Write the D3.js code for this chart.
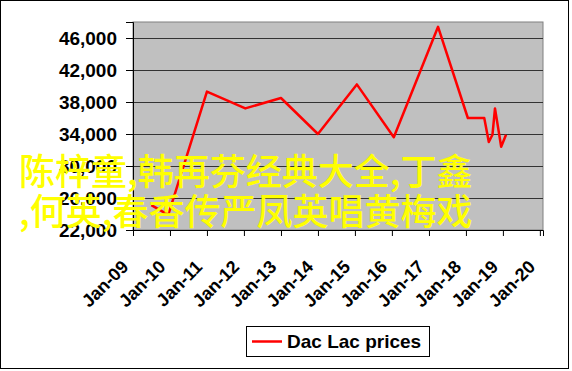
<!DOCTYPE html>
<html>
<head>
  <meta charset="UTF-8">
  <script src="https://cdnjs.cloudflare.com/ajax/libs/d3/7.8.5/d3.min.js"></script>
</head>
<body>
<style>
  body { margin: 0; background: #fff; }
  text { font-family: "Liberation Sans", Arial, sans-serif; font-weight: bold; fill: #000; }
</style>
<script>
  // price points
  var dates = ["2009-07-01", "2009-12-15", "2011-01-01", "2012-01-15", "2013-01-01", "2014-01-01",
    "2015-01-20", "2016-01-20", "2017-04-01", "2018-01-20", "2018-07-01", "2018-08-15",
    "2018-09-20", "2018-10-15", "2018-12-15", "2019-02-01"];
  var prices = [25100, 23900, 39300, 37200, 38500, 34000,
    40200, 33600, 47400, 36000, 36000, 33000,
    33900, 37200, 32400, 33900];
  var yTicks = [22000, 26000, 30000, 34000, 38000, 42000, 46000];
  var xTicks = ["2009-01-01", "2010-01-01", "2011-01-01", "2012-01-01", "2013-01-01", "2014-01-01",
    "2015-01-01", "2016-01-01", "2017-01-01", "2018-01-01", "2019-01-01", "2020-01-01"];
  var seriesName = "Dac Lac prices";
  var overlayLines = ["陈梓童,韩再芬经典大全,丁鑫", ",何英,春香传严凤英唱黄梅戏"];

  var width = 572, height = 371;
  var plotLeft = 133, plotRight = 543, plotTop = 22, plotBottom = 230;
  var parse = d3.timeParse("%Y-%m-%d");

  var svg = d3.select("body").append("svg")
    .attr("width", width)
    .attr("height", height);

  // chart area frame
  svg.append("rect")
    .attr("x", 0.5).attr("y", 0.5)
    .attr("width", 568).attr("height", 368)
    .style("fill", "#fff").style("stroke", "#000");

  var x = d3.scaleTime()
    .domain([parse("2009-01-01"), parse("2020-02-01")])
    .range([plotLeft, plotRight]);
  var y = d3.scaleLinear()
    .domain([22000, 48000])
    .range([plotBottom, plotTop]);

  svg.append("rect")
    .attr("x", plotLeft).attr("y", plotTop)
    .attr("width", plotRight - plotLeft).attr("height", plotBottom - plotTop)
    .style("fill", "#c0c0c0").style("stroke", "#808080");

  // gridlines
  svg.append("g").selectAll("line")
    .data(yTicks.slice(1))
    .enter().append("line")
    .attr("x1", plotLeft).attr("x2", plotRight)
    .attr("y1", function (d) { return Math.round(y(d)) + 0.5; })
    .attr("y2", function (d) { return Math.round(y(d)) + 0.5; })
    .style("stroke", "#333");

  var yAxis = svg.append("g")
    .attr("transform", "translate(" + plotLeft + ",0)")
    .call(d3.axisLeft(y).tickValues(yTicks).tickFormat(d3.format(",")).tickSize(7).tickPadding(9));
  yAxis.selectAll("text").style("font-size", "19px").attr("dy", "0.36em");

  var xAxis = svg.append("g")
    .attr("transform", "translate(0," + plotBottom + ")")
    .call(d3.axisBottom(x).tickValues(xTicks.map(parse)).tickFormat(d3.timeFormat("%b-%y")).tickSize(6));
  xAxis.selectAll("text")
    .style("font-size", "18px")
    .style("text-anchor", "end")
    .attr("x", 0).attr("y", 0).attr("dy", 0)
    .attr("transform", "translate(-4,38) rotate(-45)");
  svg.selectAll(".domain, .tick line").style("stroke", "#000");

  var line = d3.line()
    .x(function (d, i) { return x(parse(dates[i])); })
    .y(function (d) { return y(d); });

  svg.append("path")
    .datum(prices)
    .attr("d", line)
    .style("fill", "none")
    .style("stroke", "#ff0000")
    .style("stroke-width", 2.5)
    .style("stroke-linejoin", "round");

  // legend
  var legend = svg.append("g").attr("transform", "translate(246,326)");
  legend.append("rect")
    .attr("x", 0.5).attr("y", 0.5)
    .attr("width", 183).attr("height", 30)
    .style("fill", "#fff").style("stroke", "#000");
  legend.append("line")
    .attr("x1", 6).attr("x2", 36).attr("y1", 15.5).attr("y2", 15.5)
    .style("stroke", "#ff0000").style("stroke-width", 2.5);
  legend.append("text")
    .attr("x", 41).attr("y", 22)
    .style("font-size", "19px")
    .text(seriesName);

  // yellow overlay caption
  svg.append("g").selectAll("text")
    .data(overlayLines)
    .enter().append("text")
    .attr("x", 19)
    .attr("y", function (d, i) { return 185 + i * 40; })
    .style("font-family", "'Noto Sans CJK SC', sans-serif")
    .style("font-weight", "500")
    .style("font-size", "36px")
    .style("fill", "#ffff00")
    .text(function (d) { return d; });
</script>
</body>
</html>
